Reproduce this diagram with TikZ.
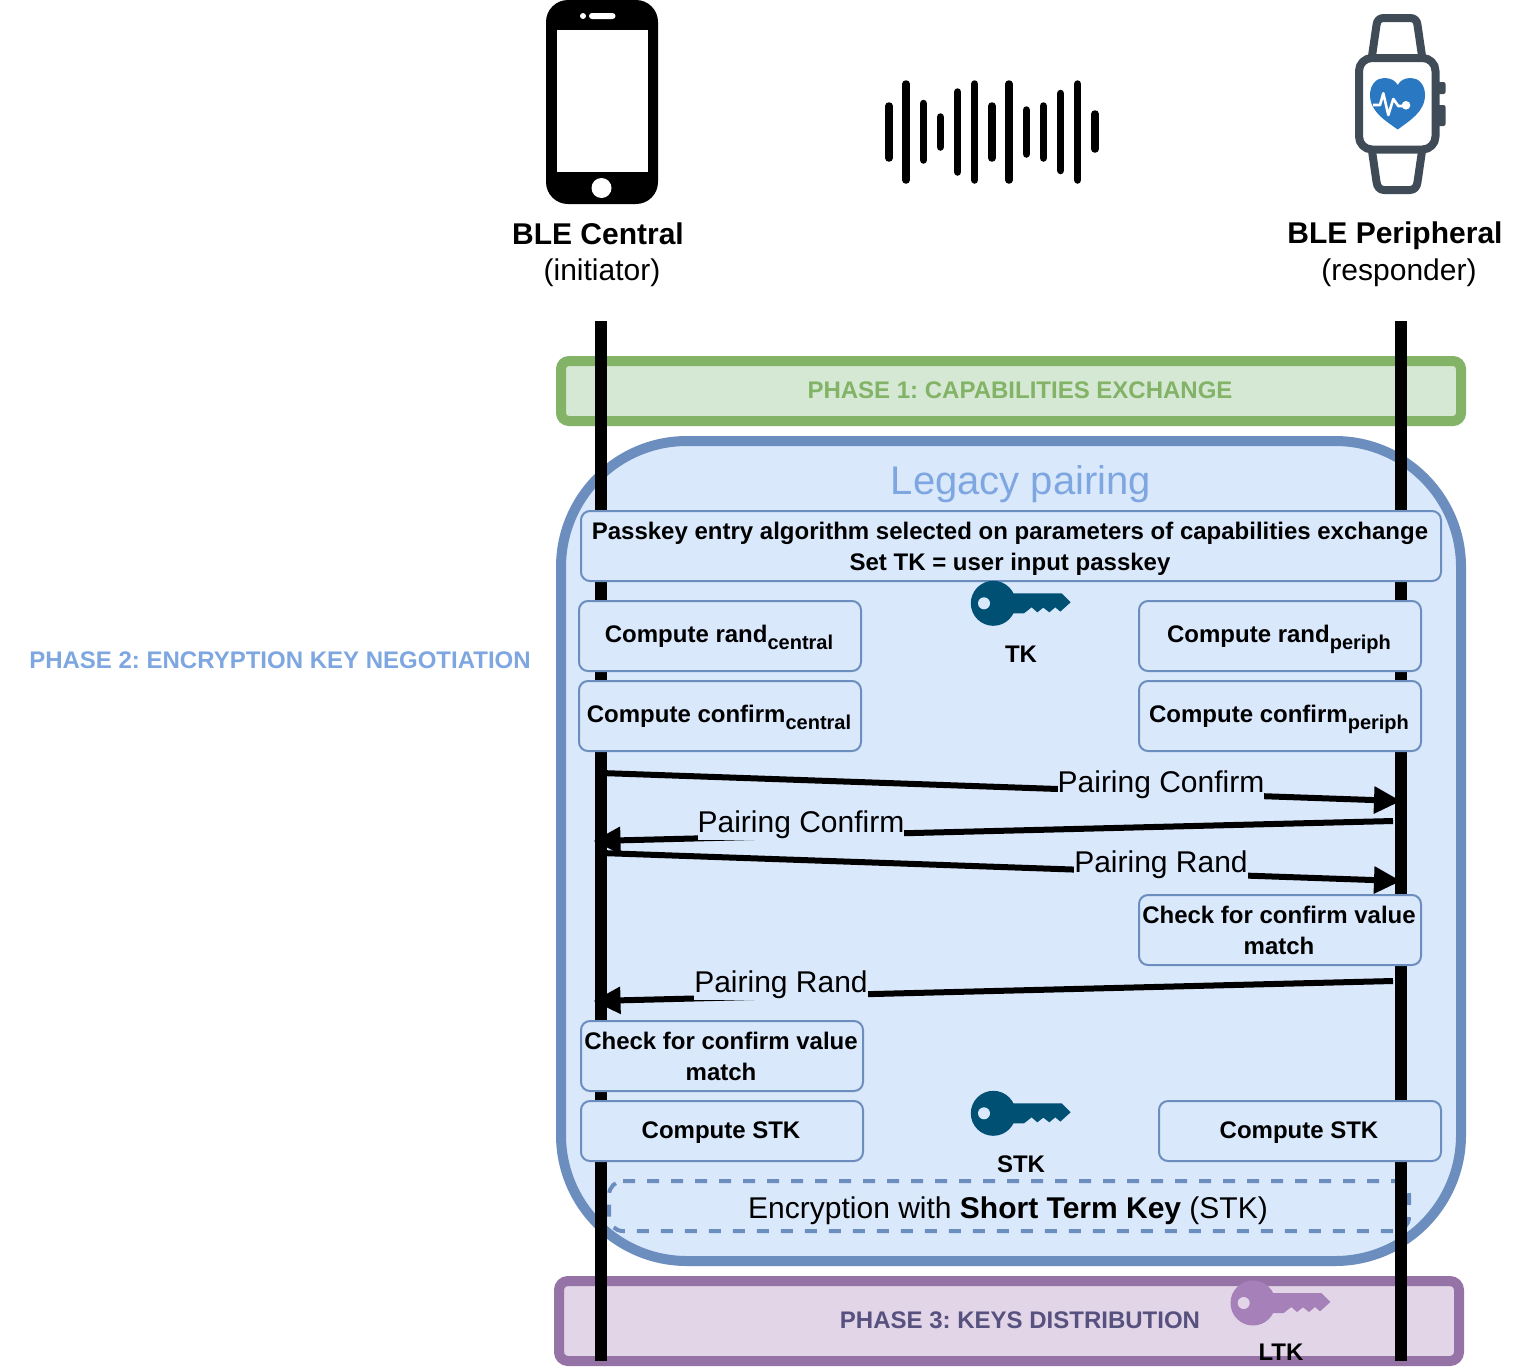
\documentclass[tikz,border=0pt]{standalone}
\usepackage{fontspec}
\setmainfont{Liberation Sans}
\usetikzlibrary{arrows.meta}
\definecolor{boxfill}{HTML}{DAE8FC}
\definecolor{boxline}{HTML}{6C8EBF}
\definecolor{grfill}{HTML}{D5E8D4}
\definecolor{grline}{HTML}{82B366}
\definecolor{pufill}{HTML}{E1D5E7}
\definecolor{puline}{HTML}{9673A6}
\definecolor{putext}{HTML}{56517E}
\definecolor{lblue}{HTML}{7EA6E0}
\definecolor{keyblue}{HTML}{005073}
\definecolor{keypurple}{HTML}{A680B8}
\definecolor{watch}{HTML}{3F4B57}
\definecolor{heart}{HTML}{2B78C2}
\frenchspacing
\newcommand{\fsz}[1]{\fontsize{#1}{#1}\selectfont}
\newcommand{\lst}{\rule[-6pt]{0pt}{30pt}}
\newcommand{\lsts}{\rule[-9pt]{0pt}{30pt}}
\newcommand{\lstt}{\rule[-8pt]{0pt}{30pt}}
\newcommand{\bigst}{\rule[-5pt]{0pt}{31pt}}
\newcommand{\subtxt}[1]{\raisebox{-7pt}[0pt][0pt]{\fsz{20}#1}}
\tikzset{
  panel/.style={line width=10pt},
  stepbox/.style={draw=boxline,fill=boxfill,line width=2pt,rounded corners=9pt,inner sep=0pt,
    align=center,font=\fsz{24}\bfseries},
  plain/.style={inner sep=0pt,align=center},
  lifeline/.style={line width=12pt,black},
  msg/.style={line width=6pt,black,-{Triangle[length=27pt,width=26pt]}},
  msglabel/.style={fill=boxfill,inner sep=0pt,text height=26pt,text depth=8pt,font=\fsz{30}},
  wave/.style={line width=7.5pt,line cap=round,black},
  watchline/.style={draw=watch,line width=8pt,line join=round},
  pics/keyicon/.style 2 args={code={
    \fill[#1] (0,0) circle[radius=22.5];
    \fill[#1] (0,-10) -- (68.3,-10) -- (77.3,-1) -- (67,8.3) -- (62,4) -- (56,9) -- (50,4.3) -- (44,9)
      -- (38.3,4) -- (30.7,10) -- (0,10) -- cycle;
    \fill[#2] (-9.3,0) circle[radius=6];
  }}
}
\begin{document}
\begin{tikzpicture}[x=1pt,y=-1pt]
\useasboundingbox (0,0) rectangle (1514,1368);

% phone
\fill[black,rounded corners=22pt] (546,0) rectangle (658,204);
\fill[white] (557,30) rectangle (648,172);
\fill[white] (601.5,188) circle[radius=10];
\fill[white] (583,16) circle[radius=3];
\fill[white,rounded corners=3pt] (589,13) rectangle (615.5,19);

% wave
\foreach \x/\a/\b in {889/106/158,906/84/180,923.3/103.5/160,940.3/117/147,957.7/92/172,974.7/84/180,992/106/158,1009/84/180,1026.3/110/154,1043.3/106/158,1060.7/93.5/170.5,1077.7/84/180,1095/114/149}
  \draw[wave] (\x,\a) -- (\x,\b);

% watch
\draw[watchline] (1372,56) -- (1376.5,25) .. controls (1377,20) and (1380,18) .. (1384,18)
  -- (1410,18) .. controls (1414,18) and (1417,20) .. (1417.5,25) -- (1422,56);
\draw[watchline] (1372,151) -- (1376.5,182) .. controls (1377,187) and (1380,190) .. (1384,190)
  -- (1410,190) .. controls (1414,190) and (1417,187) .. (1417.5,182) -- (1422,151);
\fill[watch,rounded corners=2pt] (1436,82) rectangle (1445.5,94);
\fill[watch,rounded corners=2pt] (1436,105) rectangle (1445.5,126);
\draw[watchline,fill=white,rounded corners=13pt] (1359,58) rectangle (1435.5,149.5);
\fill[heart] (1397.7,129.5) .. controls (1386,121) and (1370,112) .. (1370,95)
  .. controls (1370,84) and (1377,78) .. (1384,78) .. controls (1390,78) and (1395,80) .. (1397.7,85)
  .. controls (1400.4,80) and (1405,78) .. (1411,78) .. controls (1418,78) and (1425,84) .. (1425,95)
  .. controls (1425,112) and (1409,121) .. (1397.7,129.5) -- cycle;
\draw[white,line width=2.6pt,line join=round] (1373,105) -- (1380,105) -- (1383.3,93.3) -- (1388.3,115) -- (1393.3,99) -- (1398.3,106) -- (1405,106);
\fill[white] (1406,105.3) circle[radius=4.3];

% headings
\node[plain,font=\fsz{30}\bfseries] (central) at (598,233.5) {\bigst BLE Central};
\node[plain,font=\fsz{30}] (initiator) at (602,270.5) {\bigst (initiator)};
\node[plain,font=\fsz{30}\bfseries] (periph) at (1395,233.5) {\bigst BLE Peripheral};
\node[plain,font=\fsz{30}] (responder) at (1399,270.5) {\bigst (responder)};
\node[plain,font=\fsz{24}\bfseries,text=lblue] (phasetwo) at (280,659) {\lst PHASE 2: ENCRYPTION KEY NEGOTIATION};

% panels
\draw[panel,draw=grline,fill=grfill,rounded corners=8pt] (561,361) rectangle (1461,421);
\draw[panel,draw=boxline,fill=boxfill,rounded corners=126pt] (561,441) rectangle (1461,1261);
\draw[panel,draw=puline,fill=pufill,rounded corners=9pt] (559,1281) rectangle (1459,1361);

% encryption dashed region
\draw[draw=boxline,line width=4pt,dash pattern=on 12pt off 12pt,rounded corners=14pt]
  (623,1181) -- (1409,1181) -- (1409,1231) -- (609,1231) -- (609,1181) -- (623,1181);

% lifelines
\coordinate (ctop) at (601,321);
\coordinate (cbot) at (601,1361);
\coordinate (ptop) at (1401,321);
\coordinate (pbot) at (1401,1361);
\draw[lifeline] (ctop) -- (cbot);
\draw[lifeline] (ptop) -- (pbot);

% panel titles
\node[plain,font=\fsz{24}\bfseries,text=grline] (phaseone) at (1020,389) {\lst PHASE 1: CAPABILITIES EXCHANGE};
\node[plain,font=\fsz{40},text=lblue] (legacy) at (1021,481.5) {\rule[-6pt]{0pt}{40pt}Legacy pairing};
\node[plain,font=\fsz{24}\bfseries,text=putext] (phasethree) at (1020,1319) {\lst PHASE 3: KEYS DISTRIBUTION};
\node[plain,font=\fsz{30}] (enc) at (1008,1209) {\bigst Encryption with \textbf{Short Term Key} (STK)};

% step boxes
\node[stepbox,minimum width=860pt,minimum height=70pt] (passkey) at (1011,546)
  {\hspace*{-2pt}\lst Passkey entry algorithm selected on parameters of capabilities exchange\\\lst\hspace*{-2pt}Set TK = user input passkey};
\node[stepbox,minimum width=282pt,minimum height=70pt] (randc) at (720,636) {\lsts\hspace*{-2pt}Compute rand\subtxt{central}};
\node[stepbox,minimum width=282pt,minimum height=70pt] (confc) at (720,716) {\lsts\hspace*{-2pt}Compute confirm\subtxt{central}};
\node[stepbox,minimum width=282pt,minimum height=70pt] (randp) at (1280,636) {\lsts\hspace*{-2pt}Compute rand\subtxt{periph}};
\node[stepbox,minimum width=282pt,minimum height=70pt] (confp) at (1280,716) {\lsts\hspace*{-2pt}Compute confirm\subtxt{periph}};
\node[stepbox,minimum width=282pt,minimum height=70pt] (checkp) at (1280,930) {\lst\hspace*{-2pt}Check for confirm value\\\lst\hspace*{-2pt}match};
\node[stepbox,minimum width=282pt,minimum height=70pt] (checkc) at (722,1056) {\lst\hspace*{-2pt}Check for confirm value\\\lst\hspace*{-2pt}match};
\node[stepbox,minimum width=282pt,minimum height=60pt] (stkc) at (722,1131) {\lstt\hspace*{-2pt}Compute STK};
\node[stepbox,minimum width=282pt,minimum height=60pt] (stkp) at (1300,1131) {\lstt\hspace*{-2pt}Compute STK};

% keys
\pic (tkkey) at (993.3,603.3) {keyicon={keyblue}{boxfill}};
\pic (stkkey) at (993.3,1113.3) {keyicon={keyblue}{boxfill}};
\pic (ltkkey) at (1253,1303) {keyicon={keypurple}{pufill}};
\node[plain,font=\fsz{24}\bfseries] (tk) at (1021,653) {\lst TK};
\node[plain,font=\fsz{24}\bfseries] (stk) at (1021,1163) {\lst STK};
\node[plain,font=\fsz{24}\bfseries] (ltk) at (1281,1351) {\lst LTK};

% messages
\coordinate (m1a) at (601,773);  \coordinate (m1b) at (1401,801);
\coordinate (m2a) at (1393,821); \coordinate (m2b) at (593.5,841);
\coordinate (m3a) at (601,853);  \coordinate (m3b) at (1401,881);
\coordinate (m4a) at (1393,981); \coordinate (m4b) at (593.5,1001);
\draw[msg] (m1a) -- (m1b);
\draw[msg] (m2a) -- (m2b);
\draw[msg] (m3a) -- (m3b);
\draw[msg] (m4a) -- (m4b);
\node[msglabel] (l1) at (1161,783) {Pairing Confirm};
\node[msglabel] (l2) at (801,823) {Pairing Confirm};
\node[msglabel] (l3) at (1161,863) {Pairing Rand};
\node[msglabel] (l4) at (781,983) {Pairing Rand};
\end{tikzpicture}
\end{document}
